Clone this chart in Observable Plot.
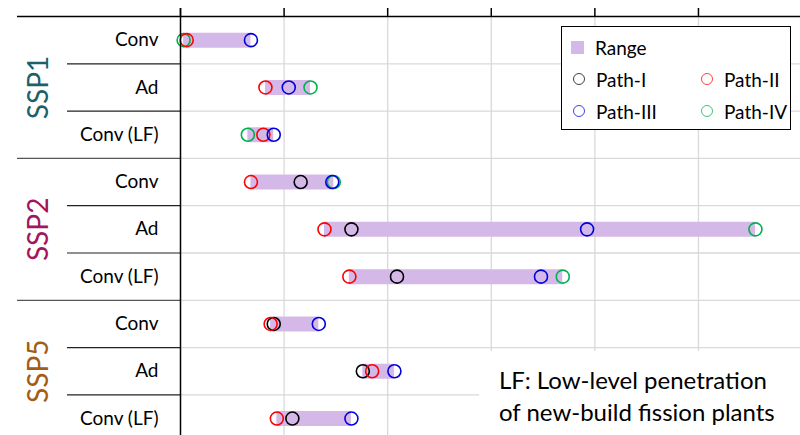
<!DOCTYPE html>
<html>
<head>
<meta charset="utf-8">
<script src="https://cdn.jsdelivr.net/npm/d3@7"></script>
<script src="https://cdn.jsdelivr.net/npm/@observablehq/plot@0.6"></script>
<style>
  html, body { margin: 0; padding: 0; background: #fff; }
  #wrap { position: relative; width: 800px; height: 435px; overflow: hidden; font-family: Lato, "Open Sans", sans-serif; }
  #legend { position: absolute; left: 561px; top: 26px; width: 228px; height: 102px; border: 1.5px solid #000; background: #fff; font-size: 19px; color: #000; }
  .li { position: absolute; display: flex; align-items: center; height: 24px; }
  .sw { width: 13px; height: 13px; background: #d4b9e8; margin-right: 11px; margin-left: 4px; }
  .ci { width: 12px; height: 12px; border-radius: 50%; border: 1.5px solid; box-sizing: border-box; margin-right: 11px; margin-left: 5px; opacity: 0.75; }
  #note { position: absolute; left: 479px; top: 351px; width: 321px; height: 84px; background: #fff; font-size: 24px; line-height: 32px; color: #000; padding-left: 20px; padding-top: 13px; box-sizing: border-box; white-space: nowrap; }
</style>
</head>
<body>
<div id="wrap">
  <div id="chart"></div>
  <div id="legend"></div>
  <div id="note">LF: Low-level penetration<br>of new-build fission plants</div>
</div>
<script>
// ---- data ----
const groups = ["SSP1", "SSP2", "SSP5"];
const groupColors = ["#1d5f6b", "#a3155c", "#a35c14"];
const cases = ["Conv", "Ad", "Conv (LF)"];
const pathI   = [null, null, null, 116, 165, 209, 90, 176, 108];
const pathII  = [6, 82, 80, 68, 139, 163, 87, 185, 93];
const pathIII = [68, 104.5, 90, 146.5, 392.5, 348, 133.5, 206.5, 165];
const pathIV  = [3, 125.5, 65, 148, 555, 369, null, null, null];
const seriesNames = ["Path-I", "Path-II", "Path-III", "Path-IV"];
const seriesColors = ["#000000", "#ff0000", "#0000dd", "#00b050"];
const xTicks = [0, 100, 200, 300, 400, 500];

// ---- derived tables ----
const rows = [];
groups.forEach((g, gi) => cases.forEach((c, ci) => rows.push({ i: gi * 3 + ci, group: g, label: c })));
const series = [pathI, pathII, pathIII, pathIV];
const points = [];
// draw order: Path-IV, Path-I, Path-II, Path-III
[3, 0, 1, 2].forEach(s => series[s].forEach((v, i) => { if (v != null) points.push({ i, v, s: seriesNames[s], color: seriesColors[s] }); }));
const ranges = rows.map(r => {
  const vals = series.map(a => a[r.i]).filter(v => v != null);
  return { i: r.i, lo: d3.min(vals), hi: d3.max(vals) };
});

const xMax = 598.5;
const unit = 620 / xMax;             // px per data unit
const xAt = px => (px - 180) / unit; // pixel -> data (for margin lines)
const rowH = 47.3;
const yPx = dy => dy / rowH;

const chart = Plot.plot({
  width: 800, height: 435,
  marginLeft: 180, marginRight: 0, marginTop: 16, marginBottom: 0,
  x: { domain: [0, xMax], axis: null },
  y: { domain: [-0.5, 8.5], range: [16, 16 + 9 * rowH], axis: null },
  style: { fontFamily: "Lato, 'Open Sans', sans-serif", background: "transparent" },
  marks: [
    Plot.ruleX(xTicks.slice(1), { y1: -0.5, y2: 8.5, stroke: "#d9d9d9", strokeWidth: 1.3 }),
    Plot.ruleY([0.5, 1.5, 2.5, 3.5, 4.5, 5.5, 6.5, 7.5], { x1: 0, x2: xMax, stroke: "#d9d9d9", strokeWidth: 1.3 }),
    Plot.ruleY([0.5, 1.5, 3.5, 4.5, 6.5, 7.5], { x1: xAt(67), x2: 0, stroke: "#222", strokeWidth: 1.2 }),
    Plot.ruleY([2.5, 5.5], { x1: xAt(17), x2: 0, stroke: "#555", strokeWidth: 1.2 }),
    Plot.ruleY(ranges, { y: "i", x1: "lo", x2: "hi", stroke: "#d4b9e8", strokeWidth: 15 }),
    Plot.dot(points, { x: "v", y: "i", r: 6.5, stroke: "color", fill: "none", strokeWidth: 1.6 }),
    Plot.ruleY([-0.5], { x1: xAt(17), x2: xMax, stroke: "#000", strokeWidth: 1.5 }),
    Plot.ruleX(xTicks, { y1: -0.5, y2: -0.5 - yPx(8), stroke: "#000", strokeWidth: 1.5 }),
    Plot.ruleX([0], { y1: -0.5 - yPx(8), y2: 8.5, stroke: "#000", strokeWidth: 1.5 }),
    Plot.text(rows, { x: 0, y: "i", text: "label", textAnchor: "end", dx: -22, fontSize: 19, fill: "#000" }),
    ...groups.map((g, gi) => Plot.text([g], { x: 0, y: gi * 3 + 1, text: d => d, rotate: -90, dx: -141, fontSize: 28, fill: groupColors[gi] }))
  ]
});
document.getElementById("chart").appendChild(chart);

// ---- legend ----
const legend = document.getElementById("legend");
const addItem = (left, top, html, label) => {
  const d = document.createElement("div");
  d.className = "li";
  d.style.left = left + "px"; d.style.top = top + "px";
  d.innerHTML = html + "<span>" + label + "</span>";
  legend.appendChild(d);
};
addItem(5, 8, '<div class="sw"></div>', "Range");
const legPos = [[6, 40], [134, 40], [6, 72], [134, 72]];
seriesNames.forEach((n, k) => addItem(legPos[k][0], legPos[k][1], `<div class="ci" style="border-color:${seriesColors[k]}"></div>`, n));
</script>
</body>
</html>
